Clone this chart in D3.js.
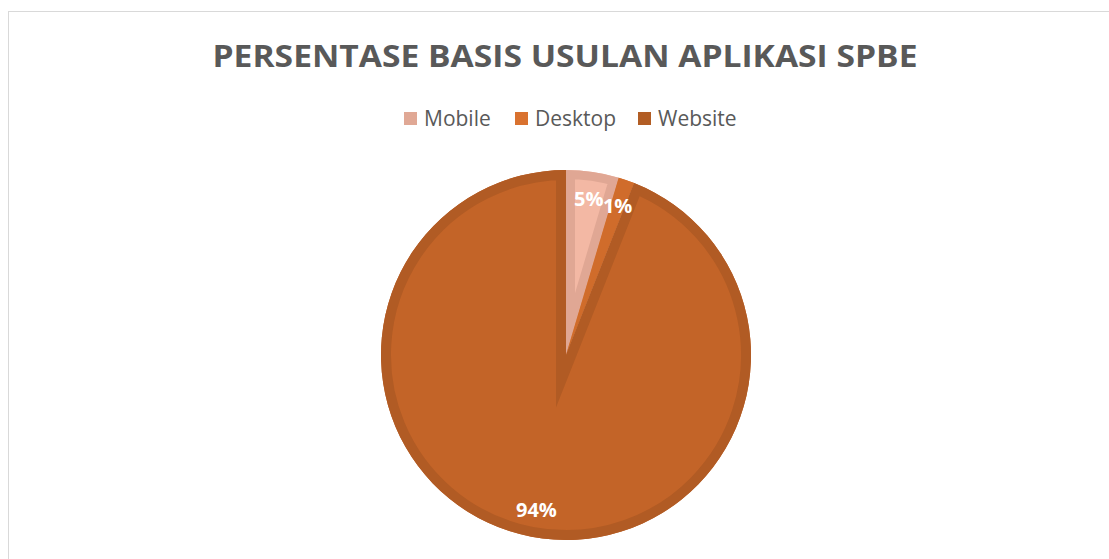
<!DOCTYPE html>
<html>
<head>
<meta charset="utf-8">
<script src="https://cdn.jsdelivr.net/npm/d3@7"></script>
<style>
    body { margin: 0; background: #fff; }
    text { font-family: "Open Sans", sans-serif; }
</style>
</head>
<body>
<svg id="chart" width="1109" height="559"></svg>
<script>
// data
var categories = ["Mobile", "Desktop", "Website"];
var values = [4.6, 1.4, 94.0];
var labels = ["5%", "1%", "94%"];
var fills = ["#F3B8A4", "#D6712E", "#C36428"];
var borders = ["#E0A794", "#D06C2B", "#B15B24"];
var swatches = ["#E0A895", "#D9722F", "#B25D24"];

var svg = d3.select("#chart"),
    width = +svg.attr("width"),
    height = +svg.attr("height");

// chart frame
svg.append("rect")
    .attr("x", 8.5).attr("y", 11.5)
    .attr("width", width + 10).attr("height", height + 10)
    .attr("fill", "none")
    .attr("stroke", "#D9D9D9");

svg.append("text")
    .attr("x", 565).attr("y", 67)
    .attr("text-anchor", "middle")
    .attr("font-size", 31)
    .attr("font-weight", 700)
    .attr("fill", "#595959")
    .attr("textLength", 705)
    .attr("lengthAdjust", "spacingAndGlyphs")
    .text("PERSENTASE BASIS USULAN APLIKASI SPBE");

// legend
var legendX = [404, 515, 638];
var legend = svg.append("g").selectAll("g")
    .data(categories)
    .enter().append("g")
    .attr("transform", function(d, i) { return "translate(" + legendX[i] + ",112)"; });
legend.append("rect")
    .attr("width", 13).attr("height", 13)
    .attr("fill", function(d, i) { return swatches[i]; });
legend.append("text")
    .attr("x", 20).attr("y", 13.5)
    .attr("font-size", 21)
    .attr("fill", "#595959")
    .text(function(d) { return d; });

// pie
var cx = 566, cy = 355, r = 185;
var pie = d3.pie().sort(null).value(function(d) { return d; });
var arcs = pie(values);
var arc = d3.arc().innerRadius(0).outerRadius(r);
var labelArc = d3.arc().innerRadius(158).outerRadius(158);

var g = svg.append("g").attr("transform", "translate(" + cx + "," + cy + ")");
var defs = svg.append("defs");

defs.selectAll("clipPath")
    .data(arcs)
    .enter().append("clipPath")
    .attr("id", function(d, i) { return "slice" + i; })
    .append("path")
    .attr("d", arc);

var slice = g.selectAll("g.slice")
    .data(arcs)
    .enter().append("g")
    .attr("class", "slice");

slice.append("path")
    .attr("d", arc)
    .attr("fill", function(d, i) { return fills[i]; });

// inner border band, like the spreadsheet style
slice.append("path")
    .attr("d", arc)
    .attr("fill", "none")
    .attr("clip-path", function(d, i) { return "url(#slice" + i + ")"; })
    .attr("stroke", function(d, i) { return borders[i]; })
    .attr("stroke-width", function(d, i) { return i == 0 ? 18 : 20; })
    .attr("stroke-linejoin", "miter")
    .attr("stroke-miterlimit", 12);

g.selectAll("text.lbl")
    .data(arcs)
    .enter().append("text")
    .attr("class", "lbl")
    .attr("transform", function(d) { return "translate(" + labelArc.centroid(d) + ")"; })
    .attr("text-anchor", "middle")
    .attr("dy", "0.36em")
    .attr("font-size", 20)
    .attr("font-weight", 700)
    .attr("fill", "#fff")
    .text(function(d, i) { return labels[i]; });
</script>
</body>
</html>
